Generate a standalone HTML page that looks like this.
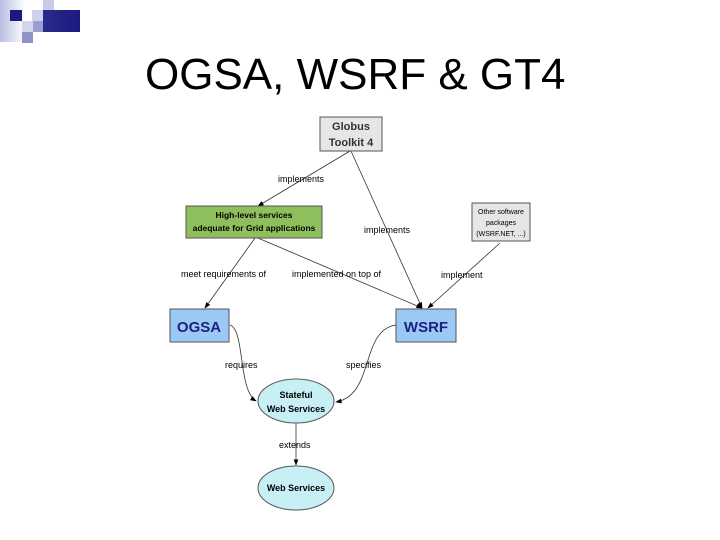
<!DOCTYPE html>
<html><head><style>
body{margin:0;width:720px;height:540px;background:#fff;overflow:hidden;position:relative;font-family:"Liberation Sans",sans-serif}
.t{position:absolute;left:145px;top:50px;font-size:44px;color:#000;white-space:nowrap}
</style></head><body>
<div style="position:absolute;left:0;top:0;width:80px;height:60px">
<div style="position:absolute;left:0;top:0;width:25px;height:42px;background:linear-gradient(90deg,#b8bce0,#fff)"></div>
<div style="position:absolute;left:10px;top:10px;width:12px;height:11px;background:#1a1a80"></div>
<div style="position:absolute;left:32px;top:10px;width:12px;height:11px;background:#d0d2ec"></div>
<div style="position:absolute;left:43px;top:0;width:11px;height:10px;background:#c8cae8"></div>
<div style="position:absolute;left:43px;top:10px;width:11px;height:11px;background:#9a9ed0"></div>
<div style="position:absolute;left:22px;top:21px;width:11px;height:11px;background:#d4d6ee"></div>
<div style="position:absolute;left:33px;top:21px;width:10px;height:11px;background:#9a9ed0"></div>
<div style="position:absolute;left:43px;top:10px;width:37px;height:22px;background:linear-gradient(90deg,#2a2a8a,#1a1a80)"></div>
<div style="position:absolute;left:22px;top:32px;width:11px;height:11px;background:#8f93c8"></div>
</div>
<div class="t">OGSA, WSRF &amp; GT4</div>
<svg width="720" height="540" style="position:absolute;left:0;top:0" font-family="Liberation Sans,sans-serif" font-weight="bold">
<defs><marker id="a" markerWidth="8" markerHeight="8" refX="7" refY="4" orient="auto"><path d="M0,1 L8,4 L0,7 Z" fill="#000"/></marker></defs>
<g stroke="#333" stroke-width="0.8" fill="none" marker-end="url(#a)">
<line x1="350" y1="151" x2="258" y2="206"/>
<line x1="351" y1="151" x2="422" y2="308"/>
<line x1="500" y1="243" x2="428" y2="308"/>
<line x1="255" y1="238" x2="205" y2="308"/>
<line x1="258" y1="238" x2="422" y2="308"/>
<path d="M230,325 C245,330 238,390 256,401"/>
<path d="M396,325 C360,330 375,395 336,402"/>
<line x1="296" y1="422" x2="296" y2="465"/>
</g>
<rect x="320" y="117" width="62" height="34" fill="#e6e6e6" stroke="#555"/>
<text x="351" y="130" font-size="11" text-anchor="middle" fill="#333">Globus</text>
<text x="351" y="146" font-size="11" text-anchor="middle" fill="#333">Toolkit 4</text>
<rect x="186" y="206" width="136" height="32" fill="#8fbf5c" stroke="#555"/>
<text x="254" y="218" font-size="8.5" text-anchor="middle">High-level services</text>
<text x="254" y="231" font-size="8.5" text-anchor="middle">adequate for Grid applications</text>
<rect x="472" y="203" width="58" height="38" fill="#e6e6e6" stroke="#555"/>
<text x="501" y="214" font-size="7" text-anchor="middle" font-weight="normal">Other software</text>
<text x="501" y="225" font-size="7" text-anchor="middle" font-weight="normal">packages</text>
<text x="501" y="236" font-size="7" text-anchor="middle" font-weight="normal">(WSRF.NET, ...)</text>
<rect x="170" y="309" width="59" height="33" fill="#9cc8f5" stroke="#555"/>
<text x="199" y="332" font-size="15" text-anchor="middle" fill="#1a237e">OGSA</text>
<rect x="396" y="309" width="60" height="33" fill="#9cc8f5" stroke="#555"/>
<text x="426" y="332" font-size="15" text-anchor="middle" fill="#1a237e">WSRF</text>
<ellipse cx="296" cy="401" rx="38" ry="22" fill="#c6f0f4" stroke="#555"/>
<text x="296" y="398" font-size="9" text-anchor="middle">Stateful</text>
<text x="296" y="412" font-size="9" text-anchor="middle">Web Services</text>
<ellipse cx="296" cy="488" rx="38" ry="22" fill="#c6f0f4" stroke="#555"/>
<text x="296" y="491" font-size="9" text-anchor="middle">Web Services</text>
<g font-size="9" font-weight="normal" fill="#000">
<text x="278" y="182">implements</text>
<text x="364" y="233">implements</text>
<text x="181" y="277">meet requirements of</text>
<text x="292" y="277">implemented on top of</text>
<text x="441" y="278">implement</text>
<text x="225" y="368">requires</text>
<text x="346" y="368">specifies</text>
<text x="279" y="448">extends</text>
</g>
</svg>
</body></html>
